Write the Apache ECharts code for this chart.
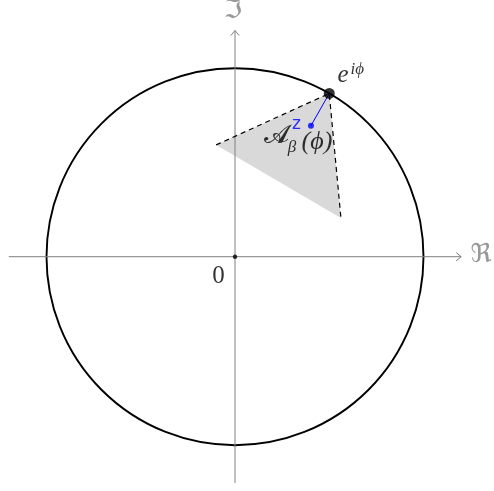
<!DOCTYPE html>
<html>
<head>
<meta charset="utf-8">
<script src="https://cdn.jsdelivr.net/npm/echarts@6/dist/echarts.min.js"></script>
<style>html,body{margin:0;padding:0;background:#fff;}#c{width:494px;height:491px;}</style>
</head>
<body>
<div id="c"></div>
<script>
// ---- data ----
const axisExtent = [-1.2, 1.2];
const circleCenter = [0, 0];
const circleRadius = 1;
const pointE = [0.5, 0.866];          // e^{i phi}, phi = 60 deg
const stolzVertices = [[0.5, 0.866], [-0.10, 0.593], [0.562, 0.205]];
const pointZ = [0.403, 0.695];
const origin = [0, 0];
const arrowHead = [0.027, 0.022];     // chevron length / half-width (axis units)
const textE = 'e';
const textExp = 'iϕ';
const textA = '𝓐';
const textBeta = 'β';
const textPhi = '(ϕ)';
const textZ = 'z';
const textZero = '0';
const textRe = 'ℜ';
const textIm = 'ℑ';

const chart = echarts.init(document.getElementById('c'), null, {renderer: 'canvas'});
const gray = '#808080';
const serif = '"Liberation Serif", "DejaVu Serif", serif';

function lbl(value, text, offset, extra) {
  return {
    value: value, symbolSize: 0,
    label: Object.assign({
      show: true, formatter: text, position: 'inside', offset: offset,
      align: 'center', verticalAlign: 'middle', color: '#000',
      fontFamily: serif, fontSize: 22
    }, extra || {})
  };
}

const xMax = axisExtent[1], yMax = axisExtent[1];
const option = {
  animation: false,
  grid: {left: 8.8, right: 32.8, top: 30.5, bottom: 8.1},
  xAxis: {type: 'value', min: axisExtent[0], max: axisExtent[1], show: false},
  yAxis: {type: 'value', min: axisExtent[0], max: axisExtent[1], show: false},
  series: [
    { // shaded Stolz region
      type: 'custom', z: 1, clip: false,
      data: [[].concat(...stolzVertices)],
      renderItem: function (params, api) {
        const pts = [0, 1, 2].map(i => api.coord([api.value(2 * i), api.value(2 * i + 1)]));
        return {type: 'polygon', shape: {points: pts}, style: {fill: '#d9d9d9', stroke: null}};
      }
    },
    { // unit circle
      type: 'custom', z: 2, clip: false,
      data: [[circleCenter[0], circleCenter[1], circleRadius]],
      renderItem: function (params, api) {
        const c = api.coord([api.value(0), api.value(1)]);
        const r = api.size([api.value(2), api.value(2)])[0];
        return {type: 'circle', shape: {cx: c[0], cy: c[1], r: r}, style: {fill: null, stroke: '#000', lineWidth: 1.9}};
      }
    },
    {type: 'line', z: 3, symbol: 'none', silent: true, lineStyle: {color: gray, width: 1},
     data: [[axisExtent[0], 0], [axisExtent[1], 0]]},
    {type: 'line', z: 3, symbol: 'none', silent: true, lineStyle: {color: gray, width: 1},
     data: [[0, axisExtent[0]], [0, axisExtent[1]]]},
    {type: 'line', z: 3, symbol: 'none', silent: true, lineStyle: {color: gray, width: 1},
     data: [[xMax - arrowHead[0], arrowHead[1]], [xMax, 0], [xMax - arrowHead[0], -arrowHead[1]]]},
    {type: 'line', z: 3, symbol: 'none', silent: true, lineStyle: {color: gray, width: 1},
     data: [[-arrowHead[1], yMax - arrowHead[0]], [0, yMax], [arrowHead[1], yMax - arrowHead[0]]]},
    { // dashed edges
      type: 'line', z: 4, symbol: 'none', silent: true,
      lineStyle: {color: '#000', width: 1.2, type: [5, 4]},
      data: [stolzVertices[1], stolzVertices[0], stolzVertices[2]]
    },
    { // blue segment
      type: 'line', z: 5, symbol: 'none', silent: true,
      lineStyle: {color: '#0000ff', width: 1},
      data: [pointZ, pointE]
    },
    { // points
      type: 'scatter', z: 6, silent: true,
      data: [
        {value: pointE, symbolSize: 11, itemStyle: {color: '#000'}},
        {value: pointZ, symbolSize: 6, itemStyle: {color: '#0000ff'}},
        {value: origin, symbolSize: 4.5, itemStyle: {color: '#000'}}
      ]
    },
    { // labels
      type: 'scatter', z: 7, silent: true,
      data: [
        lbl(pointE, textE, [13.7, -18], {fontStyle: 'italic', fontSize: 25}),
        lbl(pointE, textExp, [28, -24], {fontStyle: 'italic', fontSize: 17}),
        lbl(origin, textZero, [-16.5, 19.5], {fontSize: 25}),
        lbl(pointZ, textA, [-34, 10.5], {fontSize: 26, fontFamily: '"DejaVu Sans", serif'}),
        lbl(pointZ, textBeta, [-19, 22], {fontStyle: 'italic', fontSize: 17}),
        lbl(pointZ, textPhi, [6, 16], {fontSize: 26, fontStyle: 'italic'}),
        lbl(pointZ, textZ, [-14.5, -1], {color: '#0000ff', fontSize: 17, fontFamily: '"DejaVu Sans", sans-serif'}),
        lbl([0, yMax], textIm, [-2, -19.5], {color: gray, fontSize: 26, fontFamily: '"DejaVu Sans", serif'}),
        lbl([xMax, 0], textRe, [20, -1.7], {color: gray, fontSize: 26, fontFamily: '"DejaVu Sans", serif'})
      ]
    }
  ]
};
chart.setOption(option);
</script>
</body>
</html>
